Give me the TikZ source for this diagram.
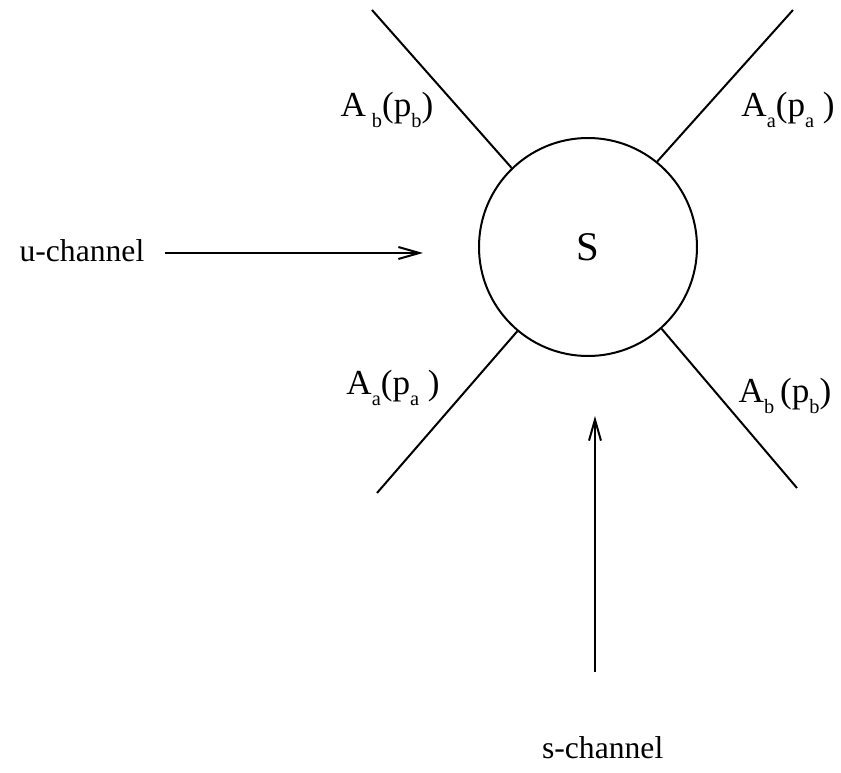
\documentclass[tikz,border=0pt]{standalone}
\usepackage{fontspec}
\setmainfont{Liberation Serif}
\usetikzlibrary{arrows.meta}

% lowered index as printed in the figure
\newcommand{\lo}[1]{\raisebox{-0.3em}{\fontsize{5.8}{6}\selectfont #1}}

\begin{document}
\begin{tikzpicture}[
    x=0.1mm, y=-0.1mm,
    font=\fontsize{9}{10}\selectfont,
    >={Straight Barb[length=2.1mm,width=1.2mm]},
    blob/.style={circle, draw=black, line width=0.2mm, minimum size=21.8mm,
      inner sep=0pt, font=\fontsize{11.6}{13}\selectfont},
    leg/.style={draw=black, line width=0.2mm},
    chan/.style={->, line width=0.2mm, draw=black},
    amp/.style={anchor=base, inner sep=0pt, font=\fontsize{10}{11}\selectfont},
    clab/.style={anchor=base east, inner sep=0pt}
  ]
  \useasboundingbox (0,0) rectangle (841,773);
  \node[blob] (S) at (588,247) {S};
  % external legs
  \coordinate (ul) at (372,10);
  \coordinate (ur) at (793,10);
  \coordinate (ll) at (377,493);
  \coordinate (lr) at (797,488);
  \draw[leg] (S.134) -- (ul);
  \draw[leg] (S.51) -- (ur);
  \draw[leg] (S.230) -- (ll);
  \draw[leg] (S.312) -- (lr);
  \node[amp] (ab1) at (387,117) {A\,\lo{b}(p\lo{b})};
  \node[amp] (aa1) at (788,117) {A\lo{a}(p\lo{a}\ )};
  \node[amp] (aa2) at (393,395) {A\lo{a}(p\lo{a}\ )};
  \node[amp] (ab2) at (785,403) {A\lo{b}\,(p\lo{b})};
  % channels
  \node[clab] (uch) at (145,262) {u-channel};
  \node[clab] (sch) at (664,759) {s-channel};
  \coordinate (ubeg) at (165,253);
  \coordinate (uend) at (423,253);
  \coordinate (sbeg) at (595,672);
  \coordinate (send) at (595,416);
  \draw[chan] (ubeg) -- (uend);
  \draw[chan] (sbeg) -- (send);
\end{tikzpicture}
\end{document}
